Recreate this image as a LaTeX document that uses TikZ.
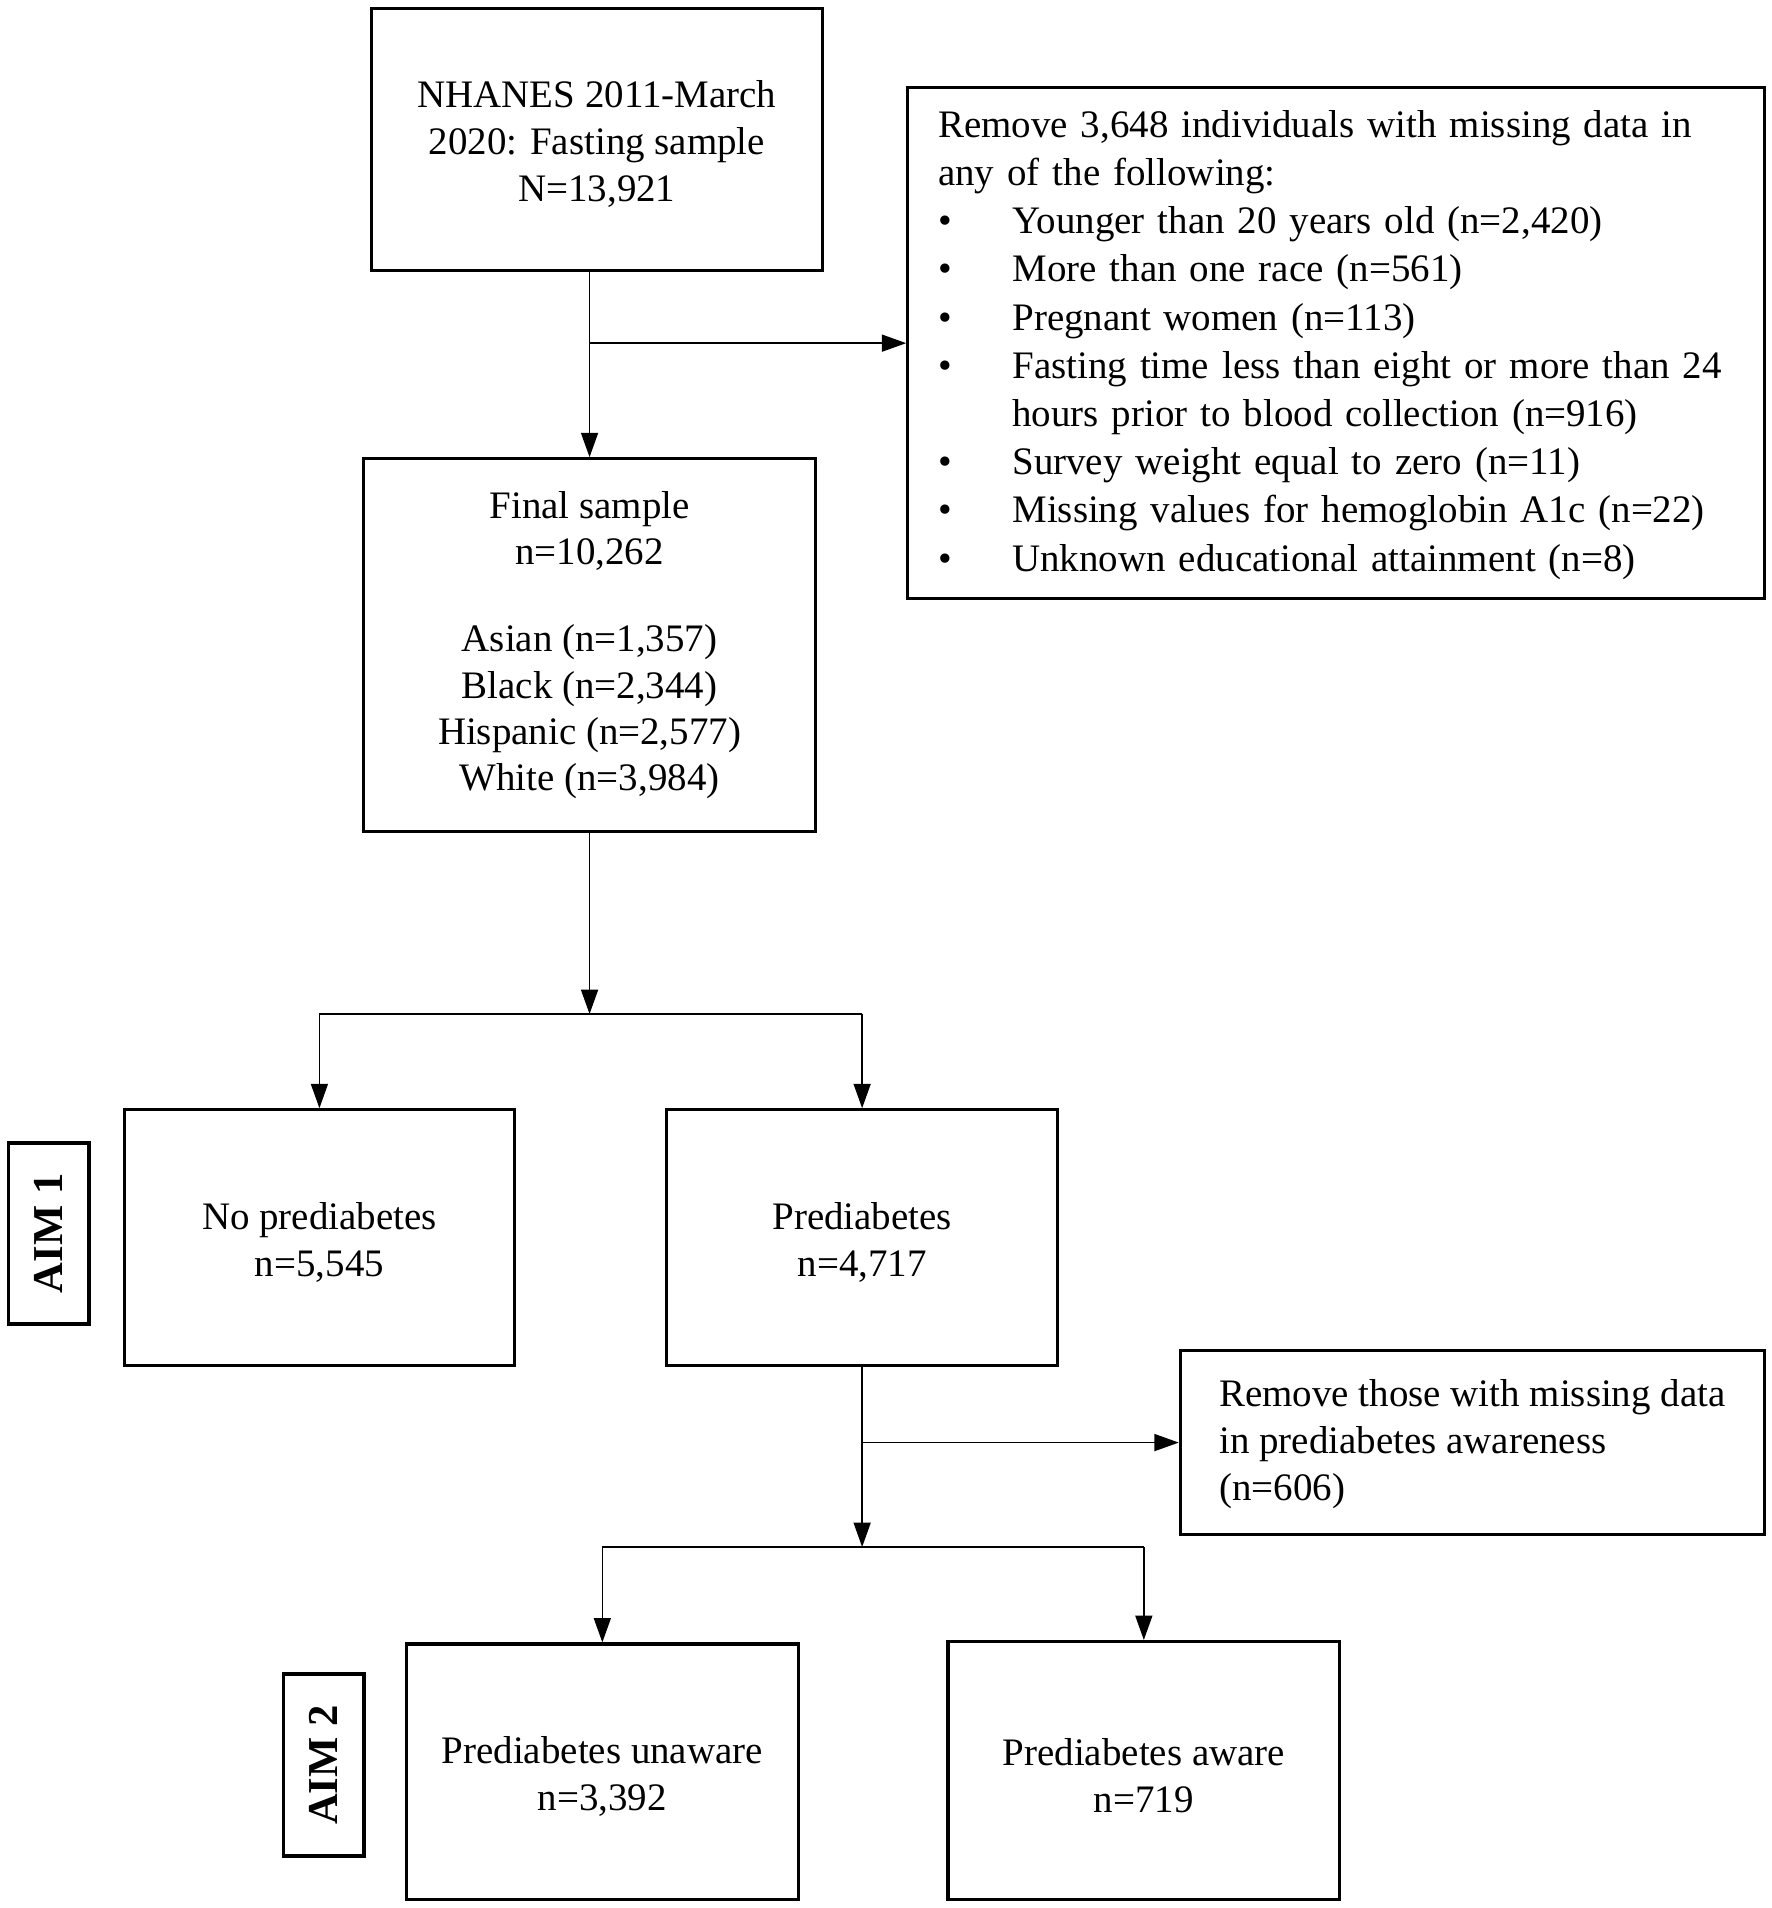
\documentclass[tikz,border=0pt]{standalone}
\usepackage{fontspec}
\setmainfont{Liberation Serif}
\usetikzlibrary{arrows.meta}
\newcommand\tp{\rule{0pt}{15pt}}
\begin{document}
\begin{tikzpicture}[x=0.5pt,y=-0.5pt,
  box/.style={draw, line width=1.3pt, inner sep=0pt, align=center, font=\fontsize{16}{19.3}\selectfont},
  conn/.style={line width=0.6pt},
  arr/.style={conn, -{Triangle[length=10pt,width=7pt]}},
  aimbox/.style={draw, line width=1.6pt, inner sep=0pt, rotate=90, minimum width=74.5pt, minimum height=33pt, font=\fontsize{17.5}{20}\selectfont\bfseries}]
\useasboundingbox (0,0) rectangle (1456,1568);

\node[box, minimum width=185.5pt, minimum height=107.5pt] (top) at (490.5,114.5)
  {\tp NHANES 2011-March\\2020: Fasting sample\\N=13,921};

\node[box, align=left, text width=327pt, inner xsep=12.5pt, inner ysep=0pt, minimum height=210pt,
      font=\fontsize{16}{19.8}\selectfont] (rem1) at (1098,282)
  {\begin{tabular}{@{}p{30.5pt}@{}l@{}}
   \multicolumn{2}{@{}l@{}}{\tp Remove 3,648 individuals with missing data in}\\
   \multicolumn{2}{@{}l@{}}{any of the following:}\\
   \textbullet & Younger than 20 years old (n=2,420)\\
   \textbullet & More than one race (n=561)\\
   \textbullet & Pregnant women (n=113)\\
   \textbullet & Fasting time less than eight or more than 24\\
               & hours prior to blood collection (n=916)\\
   \textbullet & Survey weight equal to zero (n=11)\\
   \textbullet & Missing values for hemoglobin A1c (n=22)\\
   \textbullet & Unknown educational attainment (n=8)
   \end{tabular}};

\node[box, minimum width=185.5pt, minimum height=153pt, font=\fontsize{16}{19}\selectfont] (final) at (484.5,530)
  {Final sample\\n=10,262\\[17pt]Asian (n=1,357)\\Black (n=2,344)\\Hispanic (n=2,577)\\White (n=3,984)};

\node[box, minimum width=160.5pt, minimum height=105pt] (noprediab) at (262.5,1017)
  {\tp No prediabetes\\n=5,545};
\node[box, minimum width=160.5pt, minimum height=105pt] (prediab) at (708.5,1017)
  {\tp Prediabetes\\n=4,717};
\node[aimbox] (aim1) at (40,1013.5) {AIM 1};

\node[box, minimum width=240pt, minimum height=75.5pt] (rem2) at (1210,1185.5)
  {\begin{tabular}{@{}l@{}}
   \tp Remove those with missing data\\in prediabetes awareness\\(n=606)
   \end{tabular}};

\node[box, minimum width=161pt, minimum height=105pt] (unaware) at (495,1456)
  {\tp Prediabetes unaware\\n=3,392};
\node[box, minimum width=161pt, minimum height=106pt] (aware) at (940,1455)
  {\tp Prediabetes aware\\n=719};
\node[aimbox] (aim2) at (266,1450.5) {AIM 2};

% connectors
\draw[arr] (top.south -| final.north) -- (final.north);
\coordinate (b1) at (final.north |- rem1.west);
\draw[arr] (b1) -- (rem1.west);

\path (final.south) ++(0,149) coordinate (s1);
\draw[arr] (final.south) -- (s1);
\draw[conn] (noprediab.north |- s1) -- (prediab.north |- s1);
\draw[arr] (noprediab.north |- s1) -- (noprediab.north);
\draw[arr] (prediab.north |- s1) -- (prediab.north);

\path (prediab.south) ++(0,148) coordinate (s2);
\draw[arr] (prediab.south) -- (s2);
\coordinate (b2) at (prediab.south |- rem2.west);
\draw[arr] (b2) -- (rem2.west);
\draw[conn] (unaware.north |- s2) -- (aware.north |- s2);
\draw[arr] (unaware.north |- s2) -- (unaware.north);
\draw[arr] (aware.north |- s2) -- (aware.north);
\end{tikzpicture}
\end{document}
